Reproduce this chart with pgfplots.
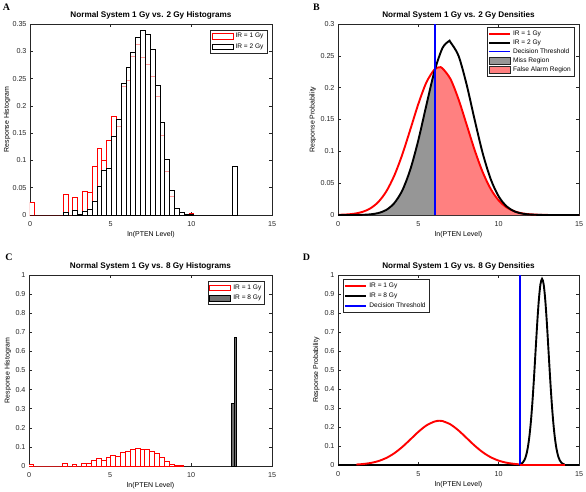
\documentclass[border=0pt]{standalone}
\usepackage{fontspec}
\setmainfont{Liberation Sans}
\newfontfamily\letterfont{Liberation Serif}
\usepackage{pgfplots}
\pgfplotsset{compat=1.18}
\definecolor{missgray}{RGB}{150,150,150}
\definecolor{fared}{RGB}{255,128,128}
\definecolor{axgray}{RGB}{38,38,38}
\definecolor{c8gray}{RGB}{110,110,110}

\pgfplotsset{
 panel/.style={
   scale only axis, width=242bp, height=191bp, anchor=south west,
   xmin=0, xmax=15, xtick={0,5,10,15},
   tick align=inside, tick pos=both, major tick length=3bp,
   axis line style={axgray, line width=0.6bp},
   every tick/.style={axgray, line width=0.6bp},
   tick label style={font=\fontsize{7.2}{8.6}\selectfont, text=axgray},
   xticklabel style={yshift=-3bp},
   /pgf/number format/assume math mode=true,
   /pgf/number format/fixed, /pgf/number format/precision=2,
   scaled y ticks=false, scaled x ticks=false,
   every axis title shift=0pt,
   title style={font=\bfseries\fontsize{8.2}{9.8}\selectfont, at={(axis description cs:0.5,1.043)}, anchor=center, yshift=0pt},
   xlabel style={font=\fontsize{7}{8.4}\selectfont, at={(axis description cs:0.5,-0.105)}, anchor=center},
   ylabel style={font=\fontsize{7}{8.4}\selectfont, anchor=center},
   xlabel={ln(PTEN Level)},
   legend style={font=\fontsize{6.6}{7.6}\selectfont, draw=axgray, inner sep=1.2bp, row sep=0.6bp},
   legend cell align=left,
 },
 hist/.style={ybar, bar width=0.3, bar shift=0pt, line width=1bp, forget plot},
 patchlegend/.style={legend image code/.code={\draw[##1] (0bp,-2.7bp) rectangle (21bp,2.7bp);}},
 patchlegendB/.style={legend image code/.code={\draw[##1] (0bp,-3.4bp) rectangle (21bp,3.4bp);}},
 linelegend/.style={legend image code/.code={\draw[##1] (0bp,0bp) -- (21bp,0bp);}},
 curve/.style={line width=1.9bp, forget plot},
}

\begin{document}
\begin{tikzpicture}
\useasboundingbox (0,0) rectangle (586bp,-492bp);

% ---------------- Panel A ----------------
\begin{axis}[panel, at={(30bp,-215bp)}, ymin=0, ymax=0.35,
  ytick={0,0.05,0.1,0.15,0.2,0.25,0.3,0.35},
  title={Normal System 1 Gy vs. 2 Gy Histograms},
  ylabel={Response Histogram},
  ylabel style={at={(axis description cs:-0.095,0.5)}},
  legend style={at={(0.979,0.969)}, anchor=north east}]
\addplot[hist, draw=red, fill=white] coordinates {
(0.11,0.023)(0.41,0)(0.71,0)(1.01,0)(1.31,0)(1.61,0)(1.91,0)(2.21,0.038)(2.51,0)(2.81,0.032)
(3.11,0)(3.41,0.043)(3.71,0.041)(4.01,0.089)(4.31,0.121)(4.61,0.100)(4.91,0.137)(5.21,0.180)
(5.51,0.163)(5.81,0.236)(6.11,0.246)(6.41,0.290)(6.71,0.312)(7.01,0.288)(7.31,0.275)(7.61,0.253)
(7.91,0.217)(8.21,0.146)(8.51,0.079)(8.81,0.034)(9.11,0.012)(9.41,0.004)(9.71,0.001)(10.01,0.002)};
\addplot[hist, draw=black, fill=white, fill opacity=0.6] coordinates {
(0.11,0)(0.41,0)(0.71,0)(1.01,0)(1.31,0)(1.61,0)(1.91,0)(2.21,0.005)(2.51,0)(2.81,0.008)
(3.11,0.001)(3.41,0.007)(3.71,0.011)(4.01,0.025)(4.31,0.053)(4.61,0.081)(4.91,0.086)(5.21,0.143)
(5.51,0.175)(5.81,0.241)(6.11,0.270)(6.41,0.298)(6.71,0.326)(7.01,0.339)(7.31,0.330)(7.61,0.304)
(7.91,0.237)(8.21,0.170)(8.51,0.102)(8.81,0.045)(9.11,0.012)(9.41,0.005)(9.71,0.001)(10.01,0.001)
(10.31,0)(10.61,0)(10.91,0)(11.21,0)(11.51,0)(11.81,0)(12.11,0)(12.41,0)(12.71,0.089)};
\addlegendimage{patchlegend, draw=red, fill=white, line width=1bp}
\addlegendentry{IR = 1 Gy}
\addlegendimage{patchlegend, draw=black, fill=white, line width=1bp}
\addlegendentry{IR = 2 Gy}
\end{axis}

% ---------------- Panel B ----------------
\begin{axis}[panel, at={(338bp,-215bp)}, width=241bp, ymin=0, ymax=0.3,
  ytick={0,0.05,0.1,0.15,0.2,0.25,0.3},
  title={Normal System 1 Gy vs. 2 Gy Densities},
  ylabel={Response Probability},
  ylabel style={at={(axis description cs:-0.104,0.5)}},
  legend style={at={(0.98,0.982)}, anchor=north east, row sep=-1.3bp}]
\addplot[fill=missgray, draw=none, smooth, forget plot] coordinates {
(0,0)(0.5,0)(1,0.0001)(1.5,0.0003)(2,0.0010)(2.5,0.0030)(3,0.0079)(3.5,0.0186)(4,0.0385)
(4.5,0.0714)(5,0.1176)(5.5,0.1725)(6,0.2254)} \closedcycle;
\addplot[fill=fared, draw=none, smooth, forget plot] coordinates {
(6,0.2285)(6.3,0.232)(6.5,0.2304)(7,0.2136)(7.5,0.1819)(8,0.1424)(8.5,0.1024)(9,0.0677)
(9.5,0.0411)(10,0.0229)(10.5,0.0118)(11,0.0056)(11.5,0.0024)(12,0.0010)(12.5,0.0004)(13,0.0001)} \closedcycle;
\addplot[red, curve, smooth] coordinates {
(0,0.0003)(0.5,0.0008)(1,0.0020)(1.5,0.0047)(2,0.0102)(2.5,0.0202)(3,0.0368)(3.5,0.0617)
(4,0.0949)(4.5,0.1342)(5,0.1744)(5.5,0.2082)(6,0.2285)(6.3,0.232)(6.5,0.2304)(7,0.2136)
(7.5,0.1819)(8,0.1424)(8.5,0.1024)(9,0.0677)(9.5,0.0411)(10,0.0229)(10.5,0.0118)(11,0.0056)
(11.5,0.0024)(12,0.0010)(12.5,0.0004)(13,0.0001)(13.5,0)(14,0)(15,0)};
\addplot[black, curve, smooth] coordinates {
(0,0)(0.5,0)(1,0.0001)(1.5,0.0003)(2,0.0010)(2.5,0.0030)(3,0.0079)(3.5,0.0186)(4,0.0385)
(4.5,0.0714)(5,0.1176)(5.5,0.1725)(6,0.2254)(6.5,0.2621)(6.9,0.273)(7,0.2714)(7.5,0.2502)
(8,0.2054)(8.5,0.1501)(9,0.0976)(9.5,0.0566)(10,0.0292)(10.5,0.0134)(11,0.0055)(11.5,0.0020)
(12,0.0007)(12.5,0.0002)(13,0)(14,0)(15,0)};
\addplot[blue, curve] coordinates {(6.02,0)(6.02,0.3)};
\addlegendimage{linelegend, draw=red, line width=1.9bp}
\addlegendentry{IR = 1 Gy}
\addlegendimage{linelegend, draw=black, line width=1.9bp}
\addlegendentry{IR = 2 Gy}
\addlegendimage{linelegend, draw=blue, line width=1.9bp}
\addlegendentry{Decision Threshold}
\addlegendimage{patchlegendB, fill=missgray, draw=axgray, line width=0.5bp}
\addlegendentry{Miss Region}
\addlegendimage{patchlegendB, fill=fared, draw=axgray, line width=0.5bp}
\addlegendentry{False Alarm Region}
\end{axis}

% ---------------- Panel C ----------------
\begin{axis}[panel, at={(29bp,-466bp)}, width=243bp, ymin=0, ymax=1,
  ytick={0,0.1,0.2,0.3,0.4,0.5,0.6,0.7,0.8,0.9,1},
  title={Normal System 1 Gy vs. 8 Gy Histograms},
  ylabel={Response Histogram},
  ylabel style={at={(axis description cs:-0.087,0.5)}},
  xlabel style={at={(axis description cs:0.5,-0.101)}},
  legend style={at={(0.970,0.967)}, anchor=north east}]
\addplot[hist, draw=red, fill=white] coordinates {
(0.11,0.007)(0.41,0)(0.71,0)(1.01,0)(1.31,0)(1.61,0)(1.91,0)(2.21,0.012)(2.51,0)(2.81,0.010)
(3.11,0)(3.41,0.013)(3.71,0.013)(4.01,0.028)(4.31,0.037)(4.61,0.031)(4.91,0.043)(5.21,0.055)
(5.51,0.050)(5.81,0.072)(6.11,0.076)(6.41,0.087)(6.71,0.094)(7.01,0.088)(7.31,0.084)(7.61,0.078)
(7.91,0.066)(8.21,0.045)(8.51,0.024)(8.81,0.010)(9.11,0.004)(9.41,0.001)};
\addplot[hist, bar width=0.135, draw=black, fill=c8gray] coordinates {
(12.595,0.325)(12.73,0.672)};
\addlegendimage{patchlegend, draw=red, fill=white, line width=1bp}
\addlegendentry{IR = 1 Gy}
\addlegendimage{patchlegend, draw=black, fill=c8gray, line width=1bp}
\addlegendentry{IR = 8 Gy}
\end{axis}

% ---------------- Panel D ----------------
\begin{axis}[panel, at={(338bp,-465bp)}, width=241bp, height=190bp, ymin=0, ymax=1,
  ytick={0,0.1,0.2,0.3,0.4,0.5,0.6,0.7,0.8,0.9,1},
  title={Normal System 1 Gy vs. 8 Gy Densities},
  ylabel={Response Probability},
  ylabel style={at={(axis description cs:-0.09,0.5)}},
  xlabel style={at={(axis description cs:0.5,-0.101)}},
  legend style={at={(0.021,0.977)}, anchor=north west, row sep=0bp}]
\addplot[black, curve] coordinates {(0,0)(11.35,0)};
\addplot[black, curve] coordinates {(14.1,0)(15,0)};
\addplot[red, curve, smooth] coordinates {
(1.14,0.0026)(1.5,0.0047)(2,0.0102)(2.5,0.0202)(3,0.0368)(3.5,0.0617)
(4,0.0949)(4.5,0.1342)(5,0.1744)(5.5,0.2082)(6,0.2285)(6.3,0.233)(6.5,0.2314)(7,0.2136)
(7.5,0.1819)(8,0.1424)(8.5,0.1024)(9,0.0677)(9.5,0.0411)(10,0.0229)(10.5,0.0118)(11,0.0056)
(11.35,0.003)};
\addplot[black, curve, smooth] coordinates {
(11.35,0.003)(11.4,0.0060)(11.5,0.0127)(11.6,0.0254)(11.7,0.0479)(11.8,0.0850)(11.9,0.1420)
(12.0,0.2233)(12.1,0.3307)(12.2,0.4608)(12.3,0.6047)(12.4,0.7469)(12.5,0.8686)(12.6,0.9509)
(12.7,0.98)(12.8,0.9509)(12.9,0.8686)(13.0,0.7469)(13.1,0.6047)(13.2,0.4608)(13.3,0.3307)
(13.4,0.2233)(13.5,0.1420)(13.6,0.0850)(13.7,0.0479)(13.8,0.0254)(13.9,0.0127)(14.0,0.0060)
(14.1,0.0026)};
\addplot[blue, curve] coordinates {(11.35,0)(11.35,1)};
\addplot[red, curve] coordinates {(11.35,0)(14.1,0)};
\addlegendimage{linelegend, draw=red, line width=1.9bp}
\addlegendentry{IR = 1 Gy}
\addlegendimage{linelegend, draw=black, line width=1.9bp}
\addlegendentry{IR = 8 Gy}
\addlegendimage{linelegend, draw=blue, line width=1.9bp}
\addlegendentry{Decision Threshold}
\end{axis}

\node[font=\letterfont\bfseries\fontsize{10}{12}\selectfont] at (6.5bp,-7bp) {A};
\node[font=\letterfont\bfseries\fontsize{10}{12}\selectfont] at (316.5bp,-7bp) {B};
\node[font=\letterfont\bfseries\fontsize{10}{12}\selectfont] at (9bp,-257bp) {C};
\node[font=\letterfont\bfseries\fontsize{10}{12}\selectfont] at (306.5bp,-257bp) {D};
\end{tikzpicture}
\end{document}
